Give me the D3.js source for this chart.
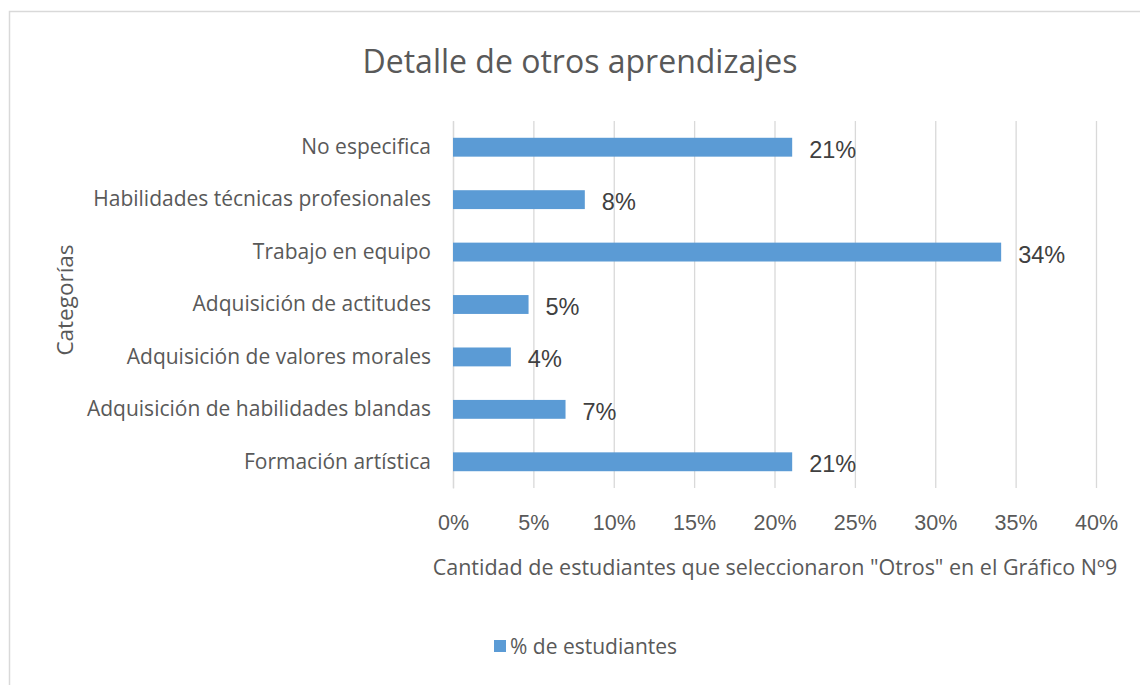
<!DOCTYPE html>
<html lang="es">
<head>
<meta charset="utf-8">
<title>Detalle de otros aprendizajes</title>
<script src="https://d3js.org/d3.v7.min.js"></script>
<style>
  body { margin: 0; background: #fff; }
</style>
</head>
<body>
<div id="chart"></div>
<script>
const categories = [
  "No especifica",
  "Habilidades técnicas profesionales",
  "Trabajo en equipo",
  "Adquisición de actitudes",
  "Adquisición de valores morales",
  "Adquisición de habilidades blandas",
  "Formación artística"
];
const values = [0.211, 0.082, 0.341, 0.047, 0.036, 0.070, 0.211];
const xTicks = [0, 0.05, 0.10, 0.15, 0.20, 0.25, 0.30, 0.35, 0.40];
const seriesName = "% de estudiantes";

const data = categories.map((c, i) => ({ cat: c, val: values[i] }));

const width = 1140, height = 685;
const plotLeft = 453, plotRight = 1096, plotTop = 121, plotBottom = 488;
const barColor = "#5b9bd5";
const sans = "Open Sans, sans-serif";

const svg = d3.select("#chart").append("svg")
  .attr("width", width)
  .attr("height", height);

// chart frame
svg.append("rect")
  .attr("x", 9.5).attr("y", 11.5)
  .attr("width", 1150).attr("height", 700)
  .attr("fill", "#fff")
  .attr("stroke", "#d9d9d9")
  .attr("stroke-width", 1.5);

const x = d3.scaleLinear().domain([0, 0.40]).range([plotLeft, plotRight]);
const y = d3.scaleBand()
  .domain(categories)
  .range([plotTop, plotBottom])
  .paddingInner(0.64)
  .paddingOuter(0.32);

// gridlines
svg.append("g")
  .attr("transform", `translate(0,${plotBottom})`)
  .call(d3.axisBottom(x).tickValues(xTicks).tickSize(-(plotBottom - plotTop)).tickFormat(""))
  .call(g => g.select(".domain").remove())
  .call(g => g.selectAll("line").attr("stroke", "#d9d9d9").attr("stroke-width", 1.3));

// x tick labels
svg.append("g")
  .attr("transform", `translate(0,${plotBottom})`)
  .call(d3.axisBottom(x).tickValues(xTicks).tickSize(0).tickPadding(27).tickFormat(d3.format(".0%")))
  .call(g => g.select(".domain").remove())
  .call(g => g.selectAll("text")
    .attr("font-family", "Liberation Sans, Arial, sans-serif")
    .attr("font-size", 21.5)
    .attr("fill", "#595959"));

// category axis
svg.append("g")
  .attr("transform", `translate(${plotLeft},0)`)
  .call(d3.axisLeft(y).tickSize(0).tickPadding(22))
  .call(g => g.select(".domain").attr("stroke", "#d9d9d9").attr("stroke-width", 1.3))
  .call(g => g.selectAll("text")
    .attr("font-family", sans)
    .attr("font-size", 21)
    .attr("fill", "#595959"));

// bars
svg.append("g")
  .selectAll("rect")
  .data(data)
  .join("rect")
  .attr("x", x(0))
  .attr("y", d => y(d.cat))
  .attr("width", d => x(d.val) - x(0))
  .attr("height", y.bandwidth())
  .attr("fill", barColor);

// data labels
svg.append("g")
  .selectAll("text")
  .data(data)
  .join("text")
  .attr("x", d => x(d.val) + 17)
  .attr("y", d => y(d.cat) + y.bandwidth() / 2 + 2)
  .attr("dy", "0.36em")
  .attr("font-family", "Liberation Sans, Arial, sans-serif")
  .attr("font-size", 23.5)
  .attr("fill", "#404040")
  .text(d => d3.format(".0%")(d.val));

// title
svg.append("text")
  .attr("x", 580).attr("y", 73)
  .attr("text-anchor", "middle")
  .attr("font-family", sans)
  .attr("font-size", 32)
  .attr("fill", "#595959")
  .text("Detalle de otros aprendizajes");

// x axis title
svg.append("text")
  .attr("x", 775).attr("y", 575)
  .attr("text-anchor", "middle")
  .attr("font-family", sans)
  .attr("font-size", 21.5)
  .attr("fill", "#595959")
  .text("Cantidad de estudiantes que seleccionaron \"Otros\" en el Gráfico Nº9");

// y axis title
svg.append("text")
  .attr("transform", `translate(73,300) rotate(-90)`)
  .attr("text-anchor", "middle")
  .attr("font-family", sans)
  .attr("font-size", 22.5)
  .attr("fill", "#595959")
  .text("Categorías");

// legend
const legend = svg.append("g").attr("transform", "translate(494,640)");
legend.append("rect")
  .attr("width", 12).attr("height", 12)
  .attr("fill", barColor);
legend.append("text")
  .attr("x", 16).attr("y", 6)
  .attr("dy", "0.36em")
  .attr("font-family", sans)
  .attr("font-size", 21)
  .attr("fill", "#595959")
  .text(seriesName);
</script>
</body>
</html>
